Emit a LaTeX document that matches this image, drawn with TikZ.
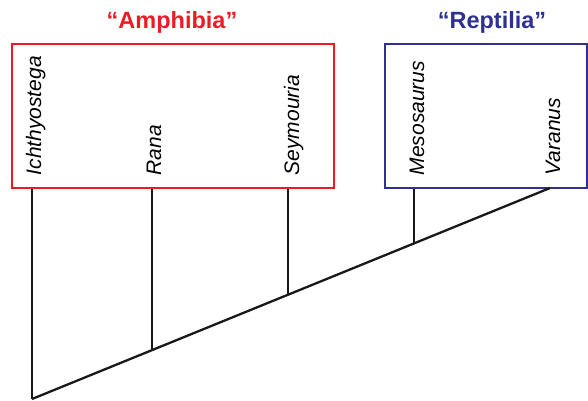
\documentclass[tikz,border=0pt]{standalone}
\usepackage{fontspec}
\setmainfont{Liberation Sans}
\definecolor{amphred}{RGB}{237,28,36}
\definecolor{reptblue}{RGB}{46,49,146}
\begin{document}
\begin{tikzpicture}[x=1pt,y=-1pt,
  taxon/.style={rotate=90,anchor=base west,inner sep=0pt,font=\fontsize{21}{24}\selectfont\itshape},
  grouptitle/.style={font=\fontsize{23.5}{26}\selectfont\bfseries,inner sep=0pt},
  groupbox/.style={draw,line width=2.4pt,inner sep=0pt,minimum height=144pt},
  branch/.style={line width=2.3pt,black!90}]
\useasboundingbox (0,0) rectangle (588,400);
% group boxes
\node[groupbox,draw=amphred,minimum width=322pt] (amph) at (173,116) {};
\node[groupbox,draw=reptblue,minimum width=202pt] (rept) at (486,116) {};
\node[grouptitle,text=amphred] (amphT) at (172,22) {“Amphibia”};
\node[grouptitle,text=reptblue] (reptT) at (492,22) {“Reptilia”};
% taxa
\node[taxon] (ich) at (41,175.5) {Ichthyostega};
\node[taxon] (ran) at (161,175.5) {Rana};
\node[taxon] (sey) at (299,175.5) {Seymouria};
\node[taxon] (mes) at (424,175.5) {Mesosaurus};
\node[taxon] (var) at (560,175.5) {Varanus};
% tree
\coordinate (root) at (32,399);
\coordinate (top) at (550,188);
\coordinate (n1) at (152,350.1);
\coordinate (n2) at (288,294.7);
\coordinate (n3) at (414,243.4);
\draw[branch] (root) -- (top);
\draw[branch] (amph.south -| root) -- (root);
\draw[branch] (amph.south -| n1) -- (n1);
\draw[branch] (amph.south -| n2) -- (n2);
\draw[branch] (rept.south -| n3) -- (n3);
\end{tikzpicture}
\end{document}
